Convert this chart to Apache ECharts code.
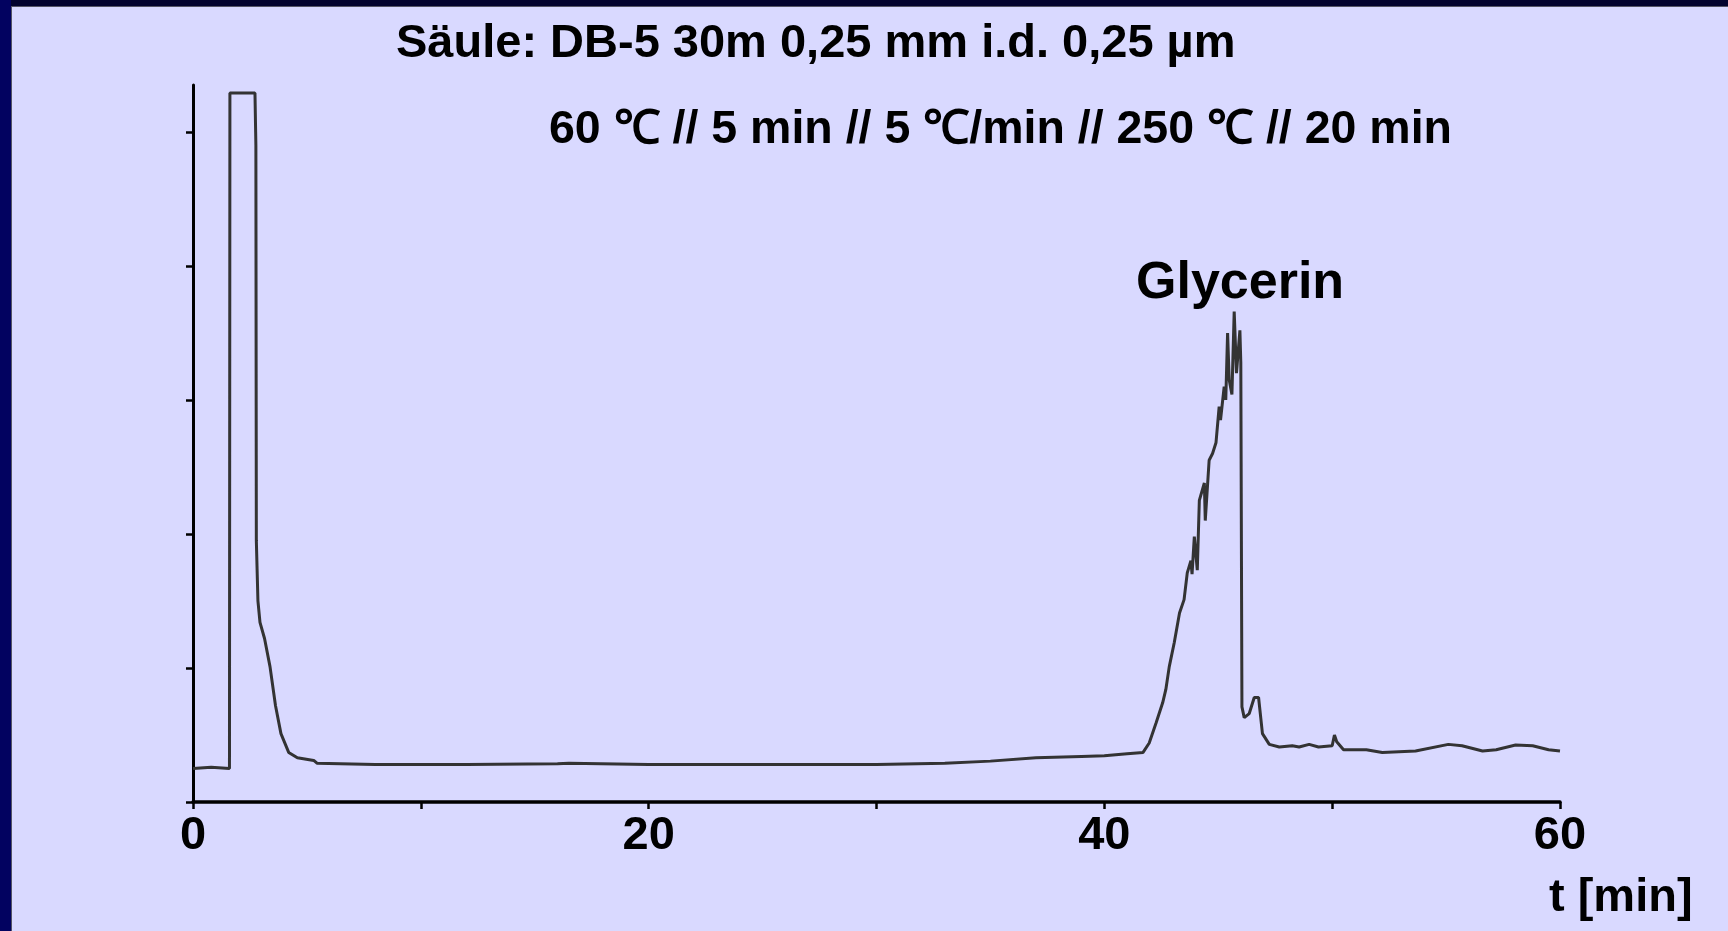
<!DOCTYPE html>
<html>
<head>
<meta charset="utf-8">
<script src="https://cdn.jsdelivr.net/npm/echarts@6/dist/echarts.min.js"></script>
<style>
html,body{margin:0;padding:0;background:#D9D9FF;overflow:hidden;}
#c{width:1728px;height:931px;}
</style>
</head>
<body>
<div id="c"></div>
<script>
// Chromatogram data (t in min, signal in arbitrary units = y-axis tick steps)
const times = [0, 0.8, 1.6, 1.62, 2.72, 2.75, 2.76, 2.78, 2.85, 2.94, 3.14, 3.38, 3.62, 3.86, 4.2, 4.58, 5.3, 5.44,
  8, 12, 16, 16.5, 20, 25, 30, 33, 35, 37, 39, 40, 41.0, 41.7, 41.97, 42.27, 42.56, 42.7, 42.85, 43.07, 43.3, 43.5,
  43.64, 43.8, 43.85, 43.95, 44.08, 44.17, 44.39, 44.43, 44.6, 44.75, 44.9, 45.04, 45.1, 45.26, 45.33, 45.41, 45.48, 45.6, 45.7, 45.8, 45.95, 45.99,
  46.04, 46.14, 46.36, 46.58, 46.77, 46.94, 47.24, 47.68, 48.25, 48.55, 48.99, 49.4, 50.0, 50.1, 50.2, 50.5, 51.5,
  52.2, 53.66, 55.1, 55.7, 56.6, 57.2, 58.05, 58.8, 59.5, 60.0];
const signal = [0.25, 0.26, 0.25, 5.29, 5.29, 5.0, 4.9, 1.95, 1.50, 1.34, 1.22, 1.01, 0.72, 0.51, 0.37, 0.33, 0.31, 0.29,
  0.28, 0.28, 0.285, 0.29, 0.28, 0.28, 0.28, 0.29, 0.305, 0.33, 0.34, 0.345, 0.36, 0.37, 0.44, 0.59, 0.74, 0.84, 1.01, 1.19, 1.41, 1.51,
  1.71, 1.80, 1.70, 1.98, 1.73, 2.25, 2.38, 2.10, 2.55, 2.60, 2.68, 2.95, 2.85, 3.10, 3.00, 3.50, 3.15, 3.04, 3.66, 3.20, 3.52, 3.28,
  0.71, 0.63, 0.66, 0.78, 0.78, 0.51, 0.43, 0.41, 0.42, 0.41, 0.43, 0.41, 0.42, 0.50, 0.45, 0.39, 0.39,
  0.37, 0.38, 0.43, 0.42, 0.38, 0.39, 0.425, 0.42, 0.39, 0.38];
const xLabels = [0, 20, 40, 60];
const yTicks = [0, 1, 2, 3, 4, 5];
const titleLine1 = 'Säule: DB-5 30m 0,25 mm i.d. 0,25 µm';
const titleLine2 = '60 ℃ // 5 min // 5 ℃/min // 250 ℃ // 20 min';
const peakName = 'Glycerin';
const axisName = 't [min]';

const FONT = '"Liberation Sans", Arial, Helvetica, sans-serif';
const chart = echarts.init(document.getElementById('c'), null, {renderer: 'canvas'});
const data = times.map((t, i) => [t, signal[i]]);

chart.setOption({
  animation: false,
  backgroundColor: '#D9D9FF',
  grid: {left: 193, right: 168, top: 85, bottom: 129, containLabel: false},
  xAxis: {
    type: 'value', min: 0, max: 60, interval: 10,
    splitLine: {show: false},
    axisLine: {show: true, lineStyle: {color: '#000', width: 3.5}},
    axisTick: {show: true, length: 7, lineStyle: {color: '#000', width: 2.5}},
    axisLabel: {
      show: true, margin: 11, color: '#000', fontSize: 47, fontWeight: 'bold', fontFamily: FONT,
      formatter: v => xLabels.includes(v) ? String(v) : ''
    }
  },
  yAxis: {
    type: 'value', min: 0, max: 5.35,
    splitLine: {show: false},
    axisLine: {show: true, lineStyle: {color: '#000', width: 3}},
    axisTick: {show: true, length: 7, customValues: yTicks, lineStyle: {color: '#000', width: 2.5}},
    axisLabel: {show: false}
  },
  series: [{
    type: 'line', data: data, showSymbol: false, symbol: 'none',
    lineStyle: {color: '#333333', width: 3}, clip: false
  }],
  graphic: [
    {type: 'rect', shape: {x: 0, y: 0, width: 1728, height: 6}, style: {fill: '#03032E'}, z: 100},
    {type: 'rect', shape: {x: 0, y: 6, width: 1728, height: 1}, style: {fill: '#555566'}, z: 100},
    {type: 'rect', shape: {x: 0, y: 0, width: 11, height: 931}, style: {fill: '#020260'}, z: 101},
    {type: 'rect', shape: {x: 11, y: 6, width: 1, height: 925}, style: {fill: '#555566'}, z: 101},
    {type: 'text', x: 396, y: 21, style: {text: titleLine1, font: 'bold 47px ' + FONT, fill: '#000', textVerticalAlign: 'top'}},
    {type: 'text', x: 549, y: 107, style: {text: titleLine2, font: 'bold 46.5px ' + FONT, fill: '#000', textVerticalAlign: 'top'}},
    {type: 'text', x: 1136, y: 258, style: {text: peakName, font: 'bold 52px ' + FONT, fill: '#000', textVerticalAlign: 'top'}},
    {type: 'text', x: 1549, y: 875, style: {text: axisName, font: 'bold 47px ' + FONT, fill: '#000', textVerticalAlign: 'top'}}
  ]
});
</script>
</body>
</html>
